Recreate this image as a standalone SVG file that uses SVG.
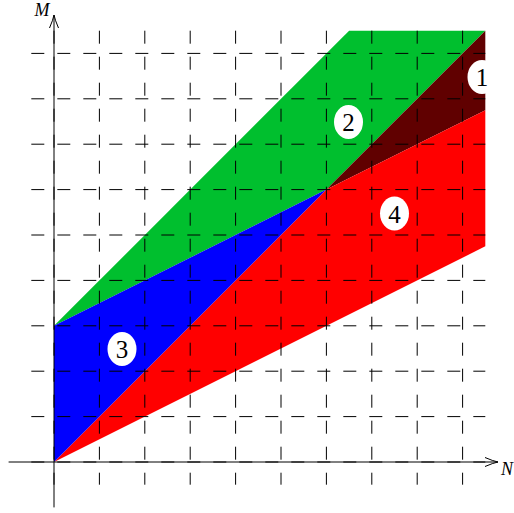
<svg xmlns="http://www.w3.org/2000/svg" width="514" height="513" viewBox="0 0 514 513">
<style>
.grid{stroke:#000;stroke-width:1;stroke-dasharray:13 13;fill:none}
.axis{stroke:#000;stroke-width:1;fill:none}
.lbl{fill:#fff;stroke:none}
.num{font-family:"Liberation Serif","DejaVu Serif",serif;font-size:25px;text-anchor:middle;fill:#000}
.ax{font-family:"Liberation Serif","DejaVu Serif",serif;font-style:italic;font-size:18px;fill:#000}
</style>
<g id="regions">
<polygon id="region2" points="54,325.8 349.1,30.7 485.3,30.7 326.4,189.6" fill="#00bf2e"/>
<polygon id="region1" points="326.4,189.6 485.3,30.7 485.3,110.15" fill="#600000"/>
<polygon id="region4" points="54,462 326.4,189.6 485.3,110.15 485.3,246.35" fill="#ff0000"/>
<polygon id="region3" points="54,462 54,325.8 326.4,189.6" fill="#0000ff"/>
</g>
<g id="grid" class="grid">
<path d="M54,30.7V484.7M99.4,30.7V484.7M144.8,30.7V484.7M190.2,30.7V484.7M235.6,30.7V484.7M281,30.7V484.7M326.4,30.7V484.7M371.8,30.7V484.7M417.2,30.7V484.7M462.6,30.7V484.7"/>
<path d="M31.3,462H485.3M31.3,416.6H485.3M31.3,371.2H485.3M31.3,325.8H485.3M31.3,280.4H485.3M31.3,235H485.3M31.3,189.6H485.3M31.3,144.2H485.3M31.3,98.8H485.3M31.3,53.4H485.3"/>
</g>
<g id="connectors">
<g id="x-axis" class="axis">
<path d="M8.6,462H498"/>
<path d="M485,457.5Q493,461 498,462Q493,463 485,466.5"/>
</g>
<g id="y-axis" class="axis">
<path d="M54,507.4V15"/>
<path d="M49.5,28Q53,20 54,15Q55,20 58.5,28"/>
</g>
</g>
<text class="ax" x="42" y="16" text-anchor="middle">M</text>
<text class="ax" x="507" y="475" text-anchor="middle">N</text>
<g id="label1"><ellipse class="lbl" cx="482" cy="77" rx="14.5" ry="17"/><text class="num" x="482" y="86">1</text></g>
<g id="label2"><ellipse class="lbl" cx="348.5" cy="122" rx="14.5" ry="17"/><text class="num" x="348.5" y="131">2</text></g>
<g id="label3"><ellipse class="lbl" cx="122" cy="349" rx="14.5" ry="17"/><text class="num" x="122" y="358">3</text></g>
<g id="label4"><ellipse class="lbl" cx="394.5" cy="213.5" rx="14.5" ry="17"/><text class="num" x="394.5" y="222.5">4</text></g>
</svg>
